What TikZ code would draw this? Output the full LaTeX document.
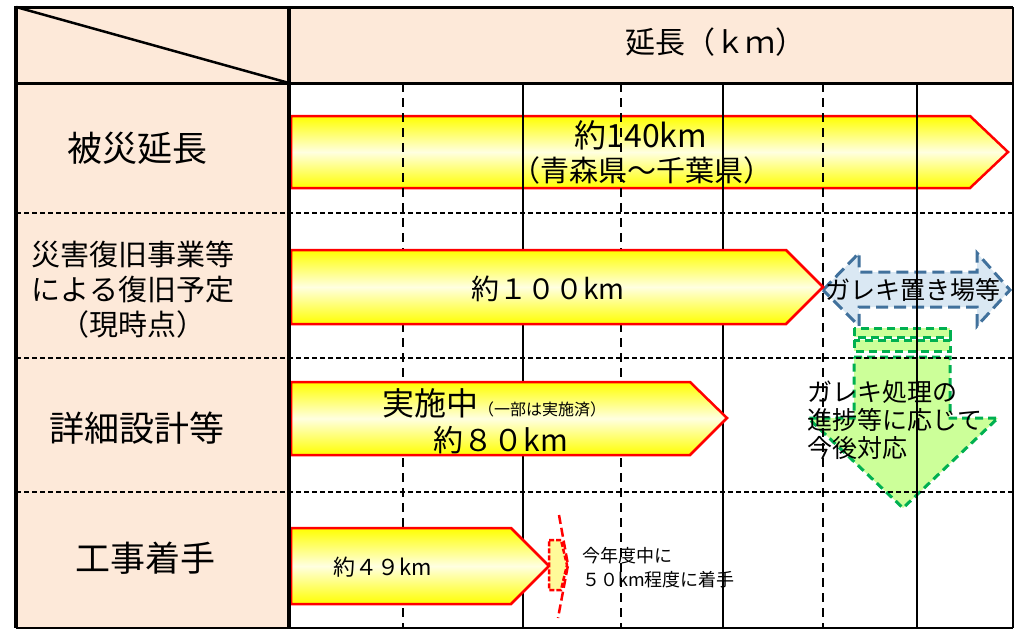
\documentclass[tikz,border=0pt]{standalone}
\usepackage{fontspec}
\setmainfont{Noto Sans CJK JP}
\definecolor{peach}{HTML}{FDE9D9}
\definecolor{bluefill}{HTML}{DAE8F3}
\definecolor{bluedraw}{HTML}{41719C}
\definecolor{greenfill}{HTML}{CCFF99}
\definecolor{greendraw}{HTML}{00B050}
\newcommand{\fs}[1]{\fontsize{#1}{#1}\selectfont}
\begin{document}
\begin{tikzpicture}[x=1pt,y=-1pt,
  solidgrid/.style={line width=1.5pt},
  vdash/.style={line width=1.5pt,dash pattern=on 9pt off 6pt},
  hdash/.style={line width=1.2pt,dash pattern=on 5pt off 3pt},
  bar/.style={draw=red,line width=2.5pt,line join=miter,top color=yellow,bottom color=yellow,middle color=yellow!12},
  bluearrow/.style={draw=bluedraw,fill=bluefill,line width=3pt,dash pattern=on 12pt off 6pt},
  greenarrow/.style={draw=greendraw,fill=greenfill,line width=3pt,dash pattern=on 8pt off 5pt},
  lbl/.style={inner sep=0pt,align=center},
  lbll/.style={inner sep=0pt,align=left,anchor=west},
]
\useasboundingbox (0,0) rectangle (1015,630);
\fill[white] (0,0) rectangle (1015,630);
% backgrounds
\fill[peach] (16,7) rectangle (1013,83);
\fill[peach] (16,83) rectangle (289,628);

% arrow row 1 (behind grid)
\draw[bar] (291,116)--(970,116)--(1008,152)--(970,188)--(291,188)--cycle;
% blue and green arrows (behind grid)
\draw[bluearrow] (823,290)--(859,253)--(859,272)--(977,272)--(977,253)--(1010,290)--(977,326)--(977,307)--(859,307)--(859,326)--cycle;
\draw[greenarrow] (854,328) rectangle (950,337);
\draw[greenarrow] (854,340) rectangle (950,351);
\draw[greenarrow] (854,357)--(950,357)--(950,418)--(998,418)--(903,508)--(808,418)--(854,418)--cycle;

% grid
\foreach \x in {403,621,823} \draw[vdash] (\x,83)--(\x,628);
\foreach \x in {523,723,917} \draw[solidgrid] (\x,83)--(\x,628);
\foreach \y in {213,358,492} \draw[hdash] (16,\y)--(1013,\y);

% other bars
\draw[bar] (291,250)--(786,250)--(823,287)--(786,324)--(291,324)--cycle;
\draw[bar] (291,382)--(690,382)--(727,418)--(690,455)--(291,455)--cycle;
\draw[bar] (291,528)--(511,528)--(549,566)--(511,604)--(291,604)--cycle;
% small dashed piece
\draw[draw=red,fill=yellow!40,line width=2.5pt,dash pattern=on 5pt off 2pt] (549,540)--(561,540)--(567,565)--(561,590)--(549,590)--cycle;
\draw[red,line width=2.5pt,dash pattern=on 9pt off 4pt] (559,515)--(568,565)--(558,618);

% borders
\draw[line width=3pt] (14.5,7)--(1013,7);
\draw[line width=3.5pt] (16,5.5)--(16,628);
\draw[line width=3pt] (16,83)--(1013,83);
\draw[line width=3.5pt] (289,7)--(289,628);
\draw[line width=2pt] (1013,7)--(1013,628);
\draw[line width=1.5pt] (16,628)--(1013,628);
\draw[line width=2.5pt] (16,7)--(289,83);

% texts
\node[lbl,font={\fontsize{30}{30}\selectfont}] (hdr) at (715,42) {延長（ｋｍ）};
\node[lbl,font={\fontsize{35}{35}\selectfont}] (r1) at (137,148) {被災延長};
\node[lbl,font={\fontsize{29}{35}\selectfont}] (r2) at (133,290) {災害復旧事業等\\による復旧予定\\（現時点）};
\node[lbl,font={\fontsize{35}{35}\selectfont}] (r3) at (137,428) {詳細設計等};
\node[lbl,font={\fontsize{35}{35}\selectfont}] (r4) at (145,558) {工事着手};

\node[lbl,font={\fontsize{32}{32}\selectfont}] (a1a) at (641,135) {約140km};
\node[lbl,font={\fontsize{29}{29}\selectfont}] (a1b) at (642,170) {（青森県～千葉県）};
\node[lbl,font={\fontsize{28}{28}\selectfont}] (a2) at (548,289) {約１００km};
\node[lbl] (a3a) at (494,403) {\fs{32}実施中\fs{16}（一部は実施済）};
\node[lbl,font={\fontsize{30}{30}\selectfont}] (a3b) at (501,440) {約８０km};
\node[lbl,font={\fontsize{22}{22}\selectfont}] (a4) at (383,567) {約４９km};
\node[lbll,font={\fontsize{18}{24}\selectfont}] (n4) at (582,568) {今年度中に\\５０km程度に着手};
\node[lbl,font={\fontsize{25}{25}\selectfont}] (bl) at (913,290) {ガレキ置き場等};
\node[lbll,font={\fontsize{25}{28}\selectfont}] (gr) at (807,420) {ガレキ処理の\\進捗等に応じて\\今後対応};
\end{tikzpicture}
\end{document}
